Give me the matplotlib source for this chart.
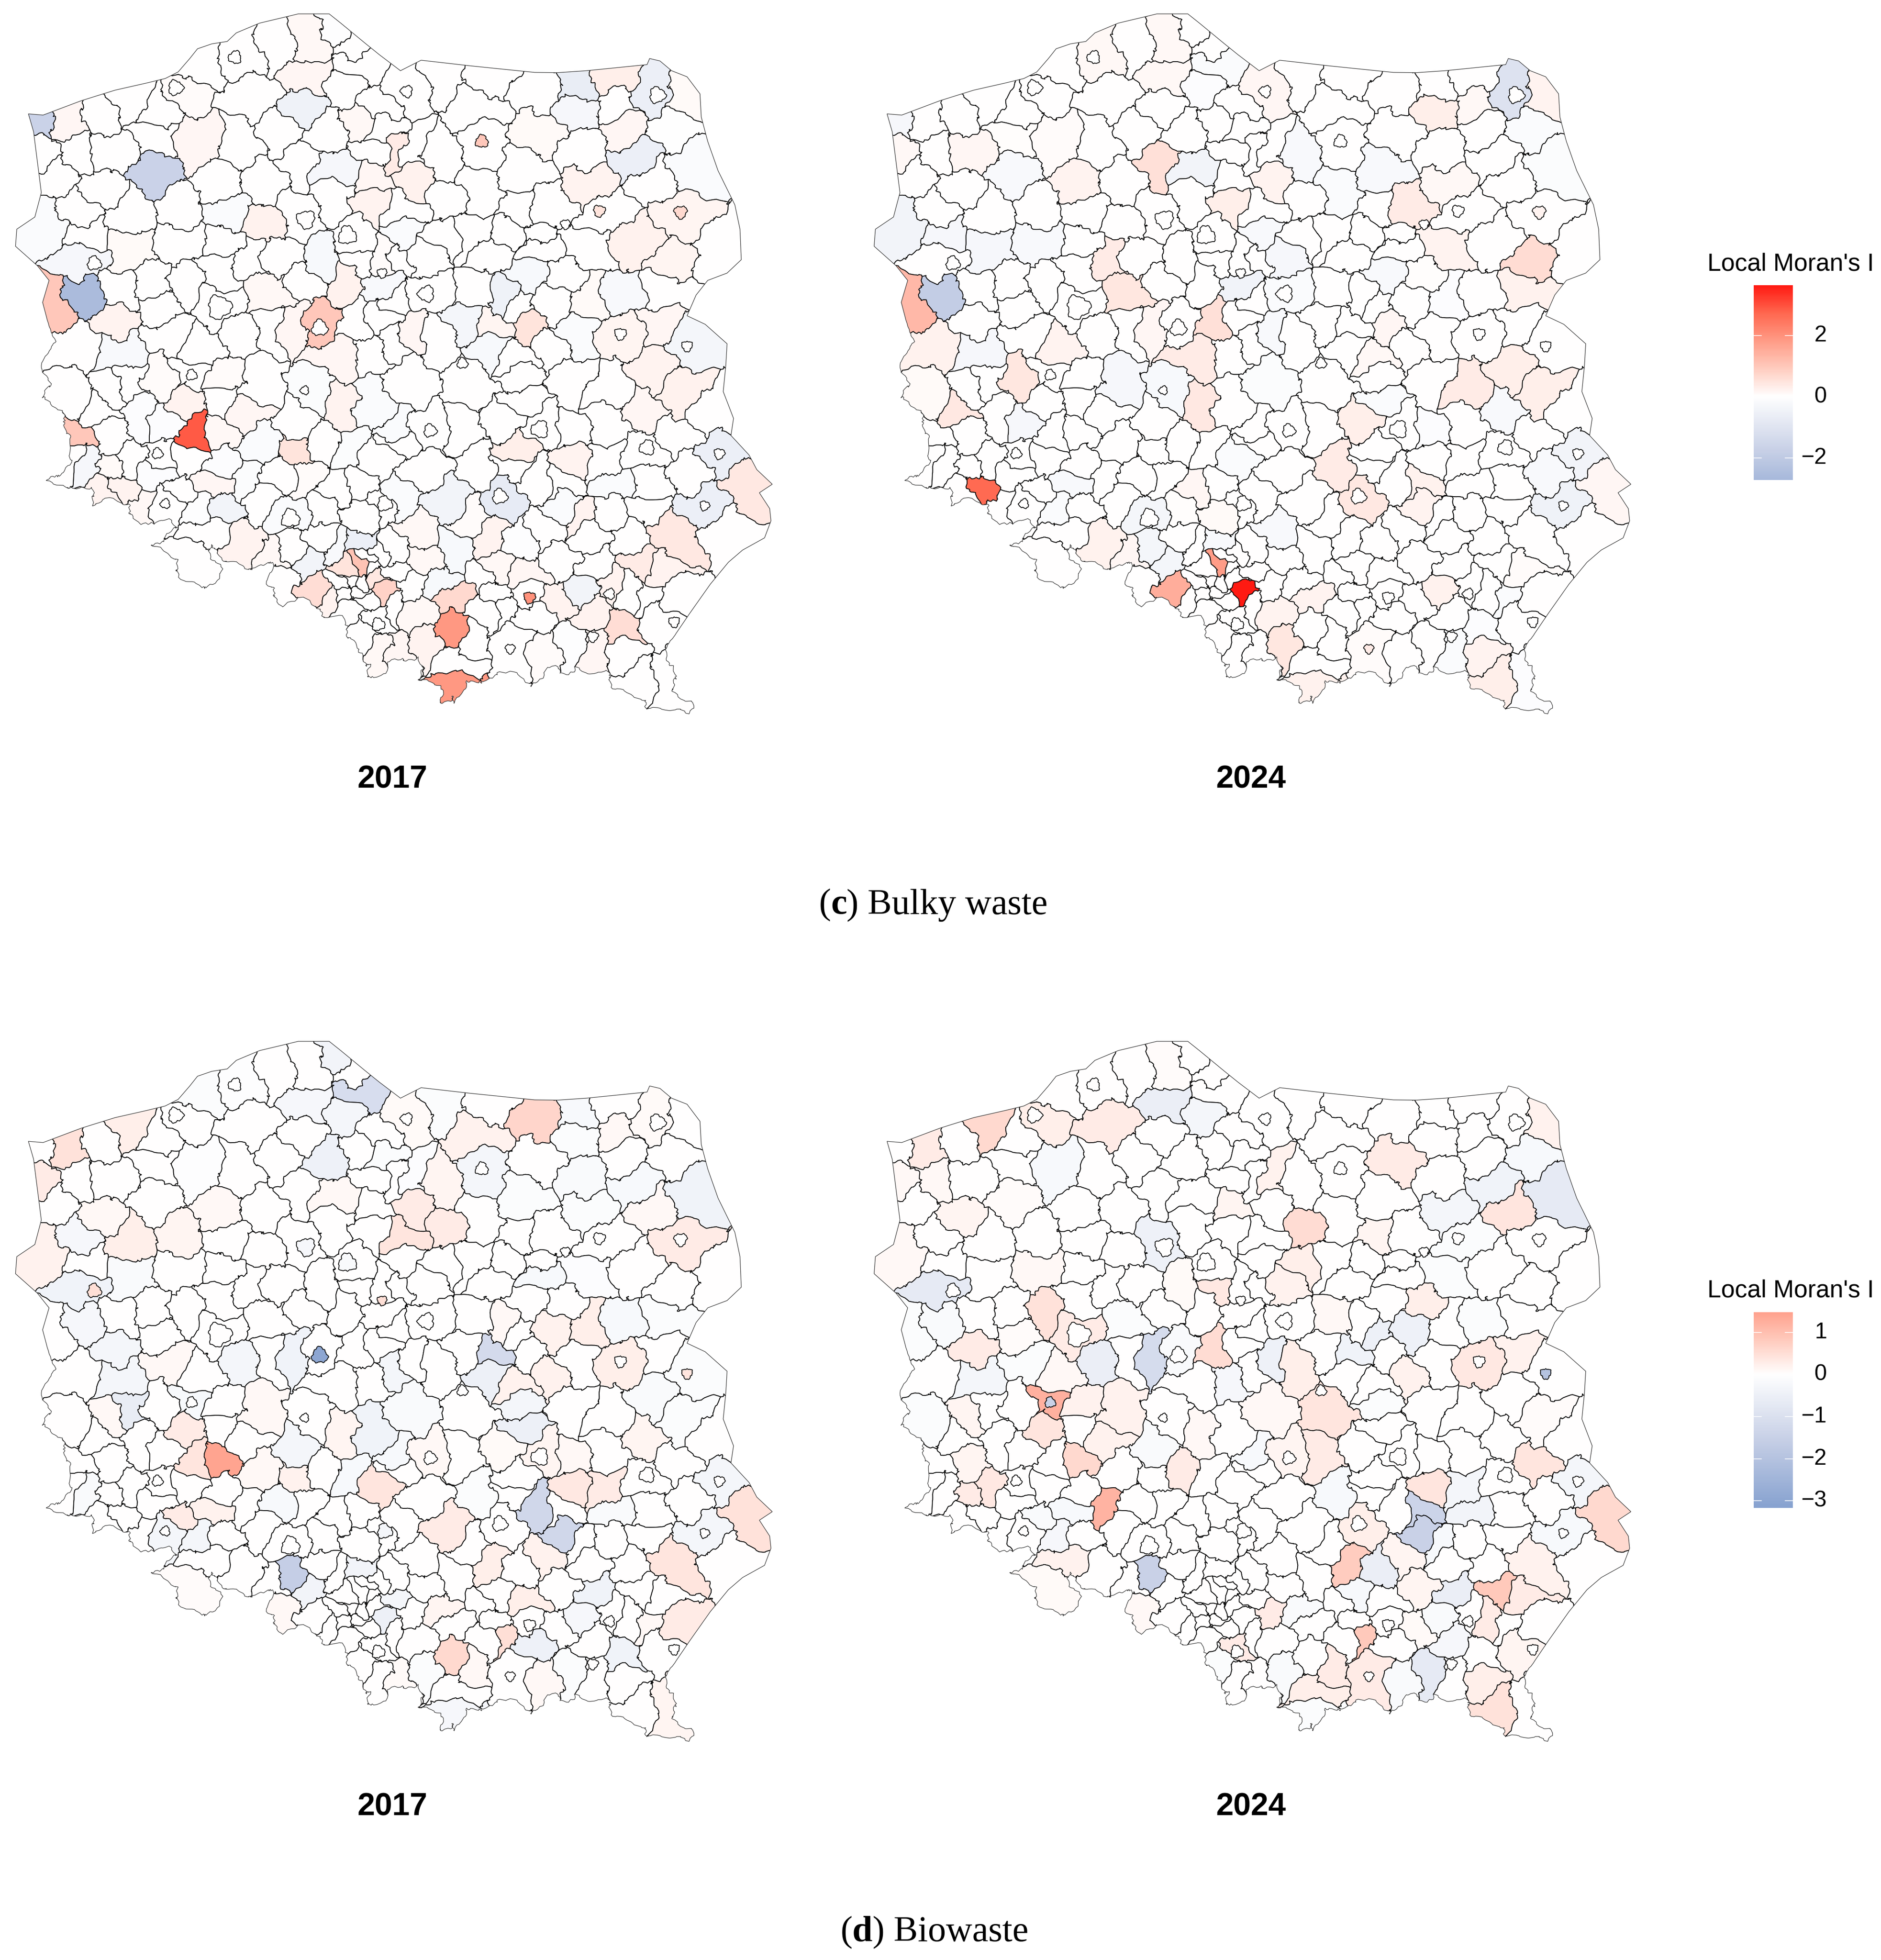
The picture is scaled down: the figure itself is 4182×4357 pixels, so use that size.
import matplotlib
matplotlib.use('Agg')
import matplotlib.pyplot as plt
import numpy as np
from matplotlib.collections import PolyCollection
from matplotlib.colors import LinearSegmentedColormap, Normalize
from matplotlib.patches import Polygon

W, H = 4182, 4357

# map units: x = image px * 1.742, y = image px * 1.845
SX, SY = 1.742, 1.845
CROP_DX, CROP_DY = 1481, 1476
PANEL_SCALE = 1.944

OUTLINE = [
    (110,467),(167,472),(315,413),(445,370),(570,340),(640,322),(690,295),(735,240),(765,200),(820,180),
    (880,170),(915,135),(1005,95),(1155,57),(1275,57),(1320,95),(1415,178),(1470,225),(1551,290),(1631,247),
    (1821,270),(2071,297),(2161,298),(2271,290),(2506,265),(2516,240),(2556,250),(2601,290),(2661,315),(2711,385),
    (2716,480),(2741,580),(2781,700),(2846,840),(2866,940),(2871,1065),(2816,1120),(2741,1150),(2696,1210),(2661,1295),
    (2731,1330),(2816,1410),(2811,1500),(2801,1606),(2841,1716),(2831,1786),(2901,1866),(2931,1926),(2991,1986),(2941,2021),
    (2981,2086),(2986,2136),(2961,2206),(2876,2256),(2821,2306),(2751,2396),(2671,2516),(2581,2656),(2611,2766),(2611,2846),
    (2661,2891),(2661,2936),(2611,2921),(2551,2896),(2491,2871),(2451,2861),(2396,2836),(2361,2776),(2311,2771),(2251,2736),
    (2196,2746),(2131,2756),(2081,2766),(2051,2811),(1991,2766),(1946,2771),(1861,2791),(1816,2796),(1786,2876),(1751,2851),
    (1696,2871),(1701,2796),(1631,2766),(1611,2686),(1521,2736),(1481,2766),(1450,2771),(1440,2716),(1400,2711),(1395,2631),
    (1340,2586),(1325,2526),(1250,2506),(1160,2461),(1110,2481),(1030,2386),(1070,2316),(985,2331),(950,2321),(810,2246),
    (855,2351),(760,2411),(715,2376),(660,2286),(610,2246),(680,2166),(640,2126),(585,2126),(555,2151),(510,2106),
    (440,2061),(365,2051),(340,1991),(255,2001),(205,1996),(245,1926),(270,1816),(260,1756),(190,1656),(180,1566),
    (160,1516),(220,1400),(200,1380),(165,1240),(190,1150),(145,1090),(60,1010),(65,940),(135,890),(160,790),(130,540),
]

# county centres, read per crop of the reference
SEEDS_NW = [
    (145,505),(260,490),(390,490),(510,420),(700,380),(760,270),(950,230),(1080,190),(1200,170),(1300,120),
    (1370,190),(1380,270),(1200,320),(1340,370),(1175,440),(980,390),(620,450),(600,560),(770,590),(940,590),
    (1090,560),(1150,670),(1300,700),(1280,530),(1380,500),(1470,450),(1480,520),(1450,620),(1540,620),(1450,730),
    (1430,830),(280,620),(170,640),(205,710),(440,620),(610,720),(380,780),(850,760),(1030,750),(1160,880),
    (1300,800),(1040,920),(700,850),(880,880),(490,880),(290,870),(180,920),(700,1000),(880,990),(510,1020),
    (320,960),(320,1060),(470,1200),(600,1150),(720,1170),(840,1110),(960,1050),(1090,1040),(1240,1070),(1380,980),
    (1190,1130),(1050,1210),(850,1260),(620,1280),(320,1220),(210,1270),(440,1320),(300,1420),(460,1440),(650,1370),
    (780,1420),(950,1360),(1040,1340),(1130,1330),(1245,1340),(1380,1320),(1480,1200),(1340,1150),(1380,1070),(1500,1050),
    (1500,1400),(1480,1300),(1300,1460),(1450,1430),
]
SEEDS_NE = [
    (100,360),(250,320),(400,310),(350,420),(620,370),(740,350),(900,320),(1040,370),(1170,400),(760,460),
    (920,420),(940,540),(1120,530),(1190,680),(980,660),(1040,730),(780,620),(620,550),(540,680),(390,600),
    (220,650),(380,790),(100,620),(125,750),(90,860),(260,830),(520,880),(650,850),(800,760),(860,860),
    (1150,900),(985,1000),(800,1020),(1120,1070),(1300,1050),(590,980),(500,940),(360,960),(220,970),(90,960),
    (50,1050),(170,1060),(430,1040),(600,1010),(560,1130),(370,1190),(180,1200),(20,1220),(470,1230),(530,1260),
    (650,1250),(700,1130),(800,1230),(920,1210),(1100,1200),(1190,1380),(1090,1330),(920,1370),(740,1380),(570,1340),
    (310,1340),(440,1340),(100,1360),(230,1390),(420,1430),(520,1460),(670,1430),
]
SEEDS_SW = [
    (280,140),(420,130),(500,90),(620,80),(730,70),(880,70),(990,100),(1220,130),(1330,190),(1430,190),
    (730,160),(850,170),(960,230),(1150,260),(1010,340),(1140,370),(1340,380),(1260,340),(1460,410),(1540,310),
    (750,300),(860,300),(640,270),(540,240),(430,310),(390,200),(300,320),(290,400),(345,420),(420,450),
    (520,420),(610,390),(600,470),(740,420),(850,420),(830,500),(950,510),(1080,460),(1200,490),(1290,530),
    (1400,520),(690,530),(880,600),(770,610),(640,590),(550,600),(1000,580),(1130,640),(1260,620),(1400,650),
    (1490,600),(470,520),(400,540),(810,700),(950,750),(1050,800),(1140,760),(1230,720),(1300,790),(1400,760),
    (1200,850),(1350,840),(1390,840),(1530,800),(1480,900),(1500,950),(1210,930),(1280,990),(1100,920),(730,830),
    (1390,940),(1320,940),(1450,1050),(1480,1200),(1400,1130),(1530,1000),(1420,820),(1450,810),(1400,910),(1350,920),
    (1440,870),(1530,860),(1340,970),(1400,980),(1350,1020),
]
SEEDS_SE = [
    (100,90),(340,100),(540,80),(740,80),(870,120),(1050,60),(1150,150),(1020,200),(1270,220),(1140,310),
    (1300,390),(1020,380),(870,260),(740,310),(610,270),(470,260),(540,170),(320,280),(180,290),(60,320),
    (510,360),(730,400),(860,420),(370,430),(160,460),(500,440),(600,490),(690,510),(910,510),(1200,470),
    (1030,500),(1420,530),(1240,600),(1000,610),(890,620),(770,650),(700,590),(460,550),(260,590),(60,580),
    (340,640),(130,720),(420,740),(530,760),(650,700),(800,720),(950,730),(1120,740),(1340,700),(1000,850),
    (1080,860),(820,840),(690,830),(570,870),(430,850),(300,800),(170,830),(230,900),(400,890),(100,930),
    (280,970),(440,980),(570,970),(680,980),(780,960),(880,930),(970,940),(1030,970),(1120,960),(1080,1060),
    (810,1020),(930,1110),(130,1040),(275,1100),(400,1030),(470,1020),(580,1040),(170,1150),(340,1140),(500,1180),
    (640,1180),(730,1170),(830,1180),(930,1200),(1010,1300),(1090,1300),(280,1340),(280,1240),(50,1200),
]

# enclosed cities, already in map units
CITIES = [
    (910,235),(680,360),(365,1080),(850,1260),(1238,1345),(1185,900),(1345,965),(1480,1120),(1575,375),(1866,580),
    (2321,865),(2190,920),(2636,870),(2546,390),(1651,1205),(2403,1370),(2661,1420),(1791,1490),(1666,1766),(2091,1761),
    (2506,1836),(2786,1861),(1936,2036),(2729,2074),(2051,2451),(2296,2611),(2361,2436),(2611,2551),(1976,2661),(742,1538),
    (610,1860),(640,2066),(1125,2126),(1490,2066),(1465,2561),(1180,1601),
]
CITY_RADIUS = [
    24,28,26,44,30,34,34,18,22,24,
    22,18,24,30,30,22,20,20,24,32,
    28,20,28,18,22,20,20,20,18,20,
    20,18,34,28,24,16,
]

# Local Moran's I per county: bulky waste 2017, read per crop
C2017_NW = [
    (145,505,-1.7),(260,490,.15),(700,380,.06),(1200,170,.12),(1300,120,-.08),(1200,320,.15),(1175,440,-.5),(770,590,.15),
    (610,720,-1.7),(1300,700,-.3),(1380,500,.12),(1450,730,.15),(1430,830,.22),(880,880,-.15),(510,1020,.09),(1040,920,.25),
    (320,1060,-.3),(320,1220,-2.6),(210,1270,1.0),(440,1320,.22),(460,1440,-.2),(180,920,-.15),(1050,1210,.12),(1245,1340,1.0),
    (1130,1330,.15),(1240,1070,-.25),(1480,1200,-.2),(1340,1150,.25),(1300,1460,.15),(1500,1050,.08),(1540,620,.35),
]
C2017_NE = [
    (740,350,-.7),(900,320,.3),(1040,370,-.6),(1170,400,.09),(760,460,-.3),(940,540,.15),(1120,530,-.04),(1190,680,-.15),
    (980,660,-.6),(620,550,.09),(125,750,.25),(90,960,-.15),(800,760,.22),(1150,900,.18),(985,1000,.25),(1120,1070,.18),
    (560,1130,-.25),(470,1230,-.5),(800,1230,.09),(920,1210,-.2),(1190,1380,-.35),(1090,1330,.15),(920,1370,.18),(740,1380,-.15),
    (570,1340,.5),(310,1340,-.35),(440,1340,.18),(100,1360,.15),(420,1430,-.25),
]
C2017_SW = [
    (620,80,.06),(880,70,.08),(1220,130,-.12),(1330,190,.22),(1430,190,-.15),(730,160,.22),(960,230,.15),(1010,340,-.15),
    (1140,370,.5),(1340,380,-.12),(1540,310,-.15),(750,300,2.9),(860,300,.12),(640,270,-.1),(540,240,-.1),(300,320,1.0),
    (345,420,-.3),(420,450,.09),(600,470,-.1),(850,420,-.1),(830,500,.15),(950,510,-.12),(1200,490,.08),(880,600,-.4),
    (770,610,-.08),(550,600,.12),(1130,640,-.15),(1400,760,-.6),(1200,850,-.4),(1300,790,-.2),(1350,840,.5),(1390,840,1.1),
    (1480,900,.4),(1500,950,.8),(1210,930,.6),(1280,990,.22),(950,750,.22),(1050,800,.12),(400,540,.22),(470,520,.22),(1480,1200,.12),
]
C2017_SE = [
    (1050,60,.22),(1150,150,.25),(1020,200,.15),(1300,390,-.6),(510,360,.3),(730,400,.22),(910,510,-.15),(1240,600,-.6),
    (1420,530,.4),(460,550,-.75),(260,590,-.4),(60,580,-.15),(770,650,.22),(700,590,-.15),(340,640,.08),(130,720,.12),
    (420,740,.22),(530,760,-.08),(1120,740,.4),(1000,850,.35),(1080,860,.22),(570,870,.15),(430,850,.12),(300,800,-.25),
    (170,830,.12),(230,900,-.25),(280,970,.7),(680,980,.22),(780,960,-.4),(880,930,.22),(930,1110,.6),(810,1020,.22),
    (130,1040,.12),(275,1100,1.9),(640,1180,.06),(730,1170,-.08),(830,1180,.15),(170,1150,.22),(280,1340,1.9),(50,1200,.15),
]
C2017_CITIES = [(1866,580,1.0),(2636,870,.7),(2321,865,.5),(2051,2451,2.0)]

C2024 = [
    (768,1250,3.65),(243,1040,2.7),(630,1245,1.5),(120,645,1.3),(165,630,-1.9),(713,1190,1.8),(1295,195,-1.1),(600,350,.55),
    (1340,555,.65),(535,620,.45),(705,700,.55),(670,755,.35),(685,865,.4),(320,790,.45),(210,845,.4),(495,545,.35),
    (1100,430,.35),(1140,495,.2),(1000,905,.3),(950,980,.35),(1005,1060,.4),(1230,770,.35),(1300,790,.3),(1350,830,.3),
    (1320,610,.25),(1150,235,.3),(1190,390,.12),(825,390,.2),(740,430,.3),(450,380,.2),(235,320,.15),(140,730,.25),
    (135,820,.1),(850,1350,.45),(1160,1255,.25),(905,1260,.2),(1125,1040,.25),(1145,1060,.2),(1280,1420,.3),(1240,1400,.2),
    (495,1150,.25),(540,1170,.15),(670,1040,.15),(700,1100,.1),(670,1100,.05),(445,740,.2),(520,755,.2),(580,680,.15),
    (1240,210,.12),(1365,205,.2),(1500,1070,.15),(900,1450,.25),(820,1300,.2),(1015,1370,.08),(1290,1250,.15),(480,100,.12),
    (610,165,.12),(620,60,.12),(770,170,.15),(400,310,.08),(300,280,.05),(90,330,.12),(1395,1200,.08),(1055,695,.15),
    (1050,755,.12),(1090,600,.05),(660,375,-.4),(755,625,-.45),(580,1070,-.45),(550,1110,-.35),(585,1155,-.35),(620,1195,-.4),
    (720,1150,-.35),(90,480,-.4),(150,500,-.3),(260,510,-.3),(360,520,-.2),(310,375,-.2),(240,730,-.3),(1040,360,-.2),
    (885,310,-.2),(1425,960,-.4),(1400,1070,-.5),(1370,1000,-.2),(1300,870,-.2),(1340,270,-.15),(1390,360,-.12),(1295,1250,-.15),
    (750,975,-.15),(430,1010,-.2),(570,770,-.3),(630,830,-.25),(335,895,-.3),(850,615,-.15),(850,545,-.3),(815,490,-.2),
    (810,695,-.2),(820,785,-.12),(840,1140,-.2),(705,140,-.15),(680,185,-.1),(1190,620,-.1),(1050,580,-.2),(1240,1330,-.1),
    (1045,850,-.15),(1155,920,-.1),(1185,1370,-.15),(1310,1440,-.1),(750,1130,-.2),(965,410,-.15),(605,1210,-.35),(395,1075,-.15),
    (75,260,-.3),
]
D2017 = [
    (445,915,1.45),(585,1155,-1.6),(1075,1000,-1.3),(1130,1060,-1.3),(990,680,-1.2),(705,135,-1.1),(1075,200,.65),(135,245,.45),
    (380,915,.4),(375,835,.3),(900,1340,.6),(1500,1080,.45),(1340,1130,.4),(1400,1200,.3),(1005,1275,.5),(815,430,.4),
    (895,425,.3),(825,385,.3),(890,300,.15),(260,225,.25),(90,340,.3),(85,470,.2),(240,450,.25),(180,390,.1),
    (350,430,.15),(445,400,.12),(345,1040,.3),(420,1010,.2),(750,975,.4),(895,1060,.3),(1085,1140,.2),(975,1140,.25),
    (1060,1205,.25),(1145,965,.35),(1205,970,.3),(1235,700,.25),(1085,640,.2),(1175,630,.25),(995,620,.12),(1105,735,.2),
    (1050,750,.2),(1360,460,.3),(1280,390,.1),(1300,170,.08),(1235,215,.12),(950,210,.2),(770,165,.08),(665,370,.1),
    (570,780,.12),(690,860,.15),(590,940,.2),(350,705,.12),(210,840,.1),(520,945,.12),(1290,860,.15),(1120,880,.1),
    (1070,900,.15),(1000,900,.08),(860,920,.12),(885,1240,.15),(1300,1230,.12),(1330,1440,.15),(1090,1360,.1),(780,1390,.08),
    (385,1180,.05),(940,1360,.1),(575,1240,.1),(665,270,-.45),(610,165,-.25),(685,180,-.3),(660,60,-.35),(985,290,-.3),
    (1390,360,-.4),(1150,330,-.15),(1250,350,-.2),(1075,510,-.2),(1240,620,-.2),(1330,620,-.12),(1370,760,-.12),(1300,790,-.15),
    (1360,820,-.1),(1430,960,-.3),(1400,1070,-.3),(1230,1030,-.15),(1230,1340,-.4),(1065,1280,-.45),(1185,1190,-.4),(1160,1255,-.25),
    (1135,1345,-.1),(1040,795,-.3),(1045,845,-.5),(985,730,-.5),(775,735,-.3),(585,690,-.4),(455,735,-.3),(240,800,-.6),
    (225,760,-.3),(170,550,-.4),(155,640,-.25),(225,680,-.3),(150,450,-.25),(260,510,-.15),(390,790,-.2),(615,1195,-.35),
    (720,1150,-.35),(770,1240,-.5),(790,1220,-.3),(390,1075,-.3),(325,1070,-.3),(905,1450,-.25),(845,1350,-.12),(175,975,-.15),
    (555,1000,-.2),(680,960,-.2),(600,895,-.3),(740,830,-.4),(785,920,-.2),(960,975,-.12),(870,800,-.15),(400,300,-.05),
    (820,310,-.08),(865,160,-.12),(765,265,-.1),(1155,240,-.12),(1175,180,-.2),(400,140,-.12),(510,100,-.05),(1040,350,-.1),
    (1140,420,-.1),(1145,515,-.08),
]
D2024 = [
    (380,775,1.25),(490,1020,1.2),(1005,1275,.85),(975,1150,.8),(1282,1190,.85),(1500,1060,.6),(895,425,.55),(260,215,.6),
    (1295,375,.4),(590,1155,-1.5),(1130,1060,-1.5),(1165,1020,-1.4),(585,680,-1.15),(1395,365,-.7),(1045,1150,-.55),(1185,1190,-.55),
    (610,165,-.55),(180,555,-.7),(1140,1350,-.7),(850,835,-.6),(1035,640,-.5),(1100,650,-.45),(810,695,-.45),(605,430,-.45),
    (460,735,-.55),(985,690,-.4),(1240,345,-.4),(1230,1040,-.35),(1185,385,-.3),(395,1075,-.35),(700,165,-.3),(400,310,-.2),
    (1340,270,-.2),(740,780,-.25),(950,975,-.2),(1425,960,-.3),(1400,1070,-.2),(1205,965,-.3),(800,1240,-.15),(1070,1360,-.15),
    (845,1350,-.15),(1190,1100,-.25),(1145,1090,-.2),(705,1320,-.12),(1190,1300,-.25),(1240,620,-.12),(900,1450,-.1),(440,1020,-.2),
    (390,1070,-.25),(345,1030,-.15),(240,730,-.3),(170,620,-.15),(130,640,-.1),(135,810,-.1),(520,760,-.12),(350,700,-.12),
    (630,690,-.15),(540,610,-.1),(1140,520,-.1),(1220,480,-.12),(1000,800,-.1),(815,1230,-.1),(900,1220,-.15),(1000,1220,-.2),
    (1165,1250,-.15),(790,900,-.2),(590,895,-.15),(130,245,.3),(360,220,.25),(490,190,.3),(90,330,.12),(145,320,.1),
    (80,470,.12),(190,400,.15),(625,60,.05),(830,320,.2),(745,380,.15),(1090,285,.3),(1360,195,.2),(370,600,.45),
    (435,645,.3),(225,680,.3),(300,680,.05),(400,730,.1),(450,800,.2),(385,840,.4),(445,915,.6),(490,875,.2),
    (340,520,.1),(260,370,.05),(205,840,.15),(220,905,.15),(215,990,.3),(270,975,.35),(405,1120,.2),(385,1190,.08),
    (570,1230,.08),(705,690,.55),(800,770,.1),(875,725,.25),(925,775,.4),(850,545,.2),(880,490,.25),(710,550,.35),
    (630,565,.08),(570,780,.2),(690,860,.12),(640,930,.3),(1025,465,.15),(955,600,.12),(1115,590,.25),(1105,735,.2),
    (930,910,.3),(855,930,.15),(1240,700,.35),(1325,680,.2),(1370,780,.05),(1350,925,.4),(1260,1230,.3),(1395,1200,.3),
    (1035,1040,.25),(1145,965,.4),(1105,1130,.15),(1120,1190,.15),(950,1350,.3),(1015,1370,.3),(900,1400,.25),(1240,1410,.25),
    (1285,1430,.45),(1320,1300,.15),(820,1240,.3),(745,1310,.3),(575,1240,.1),(1100,1260,.08),(1330,1130,.2),
]
C2024_CITIES = [(1355,450,.2),(1017,1370,.35)]
D2017_CITIES = [(635,690,-3.0),(188,553,.5),(1368,730,.4),(760,585,.5),(765,1065,-.3),(620,470,-.25),(690,495,-.15)]
D2024_CITIES = [(1368,730,-2.0),(382,792,-1.5)]

LIMIT_C = 3.65
LIMIT_D = 3.17
RANGE_C = (-2.72, 3.65)
RANGE_D = (-3.17, 1.48)
TICKS_C = [2, 0, -2]
TICKS_D = [1, 0, -1, -2, -3]

cmap = LinearSegmentedColormap.from_list('moran', [
    (0.0, '#87a2d0'), (0.25, '#c6cfe6'), (0.5, '#ffffff'),
    (0.625, '#ffcdc0'), (0.75, '#ff9c87'), (0.875, '#ff6850'), (1.0, '#ff1a12'),
])


def offset(points, dx, dy):
    return [(p[0] + dx, p[1] + dy) + tuple(p[2:]) for p in points]


def from_panel(points):
    return [(p[0] * PANEL_SCALE, p[1] * PANEL_SCALE, p[2]) for p in points]


def clip_half(poly, a, b):
    # keep the side of the bisector of a-b that holds a
    mid = (a + b) / 2
    n = b - a
    out = []
    for i in range(len(poly)):
        p, q = poly[i], poly[(i + 1) % len(poly)]
        dp, dq = np.dot(p - mid, n), np.dot(q - mid, n)
        if dp <= 0:
            out.append(p)
        if dp * dq < 0:
            out.append(p + (q - p) * dp / (dp - dq))
    return out


def wobble(pts, scale=1.0):
    x, y = pts[:, 0], pts[:, 1]
    dx = 16 * np.sin(x / 41 + y / 29) + 8 * np.sin(x / 13 - y / 19) + 4 * np.sin(x / 4.3 + y / 5.1)
    dy = 16 * np.sin(x / 31 - y / 43) + 8 * np.sin(x / 17 + y / 11) + 4 * np.sin(x / 5.3 - y / 3.9)
    return np.column_stack([x + dx * scale, y + dy * scale])


def densify(poly, step=6):
    out = []
    for i in range(len(poly)):
        p, q = np.array(poly[i], float), np.array(poly[(i + 1) % len(poly)], float)
        n = max(int(np.hypot(*(q - p)) / step), 1)
        for k in range(n):
            out.append(p + (q - p) * k / n)
    return np.array(out)


seeds = np.array(offset(SEEDS_NW, 0, 0) + offset(SEEDS_NE, CROP_DX, 0)
                 + offset(SEEDS_SW, 0, CROP_DY) + offset(SEEDS_SE, CROP_DX, CROP_DY), float)

cells = []
box = [np.array(c, float) for c in [(-100, -100), (3200, -100), (3200, 3100), (-100, 3100)]]
for i, s in enumerate(seeds):
    poly = box
    near = np.argsort(np.hypot(*(seeds - s).T))[1:45]
    for j in near:
        poly = clip_half(poly, s, seeds[j])
    cells.append(wobble(densify(poly)))

outline = densify(OUTLINE, 6)
south = np.clip((outline[:, 1] - 1300) / 300, 0, 1) * (outline[:, 0] < 2500) + np.clip((outline[:, 1] - 2600) / 100, 0, 1) * (outline[:, 0] >= 2500)
outline = wobble(outline, 1.0) * south[:, None] + outline * (1 - south[:, None])

city_polys = []
for (cx, cy), r in zip(CITIES, CITY_RADIUS):
    t = np.linspace(0, 2 * np.pi, 40, endpoint=False)
    rad = r * (1 + 0.14 * np.sin(3 * t + cx) + 0.07 * np.sin(7 * t + cy) + 0.05 * np.sin(13 * t + cx))
    city_polys.append(np.column_stack([cx + rad * np.cos(t), cy + rad * np.sin(t) * SY / SX]))
cities = np.array(CITIES, float)


def draw_panel(fig, ox, oy, values, city_values, limit):
    ax = fig.add_axes([ox / W, 1 - (oy + 1650) / H, 1750 / W, 1650 / H])
    ax.set_xlim(0, 1750 * SX)
    ax.set_ylim(1650 * SY, 0)
    ax.axis('off')
    ax.patch.set_alpha(0)
    norm = Normalize(-limit, limit)

    fill = np.zeros(len(seeds))
    for x, y, v in values:
        fill[np.argmin(np.hypot(seeds[:, 0] - x, seeds[:, 1] - y))] = v

    border = Polygon(outline, closed=True, facecolor='none', edgecolor='#333333', linewidth=0.9, zorder=3)
    ax.add_patch(border)
    coll = PolyCollection(cells, array=fill, cmap=cmap, norm=norm, edgecolors='#0d0d0d', linewidths=1.35, zorder=1)
    ax.add_collection(coll)
    coll.set_clip_path(border)

    city_fill = np.zeros(len(cities))
    for x, y, v in city_values:
        city_fill[np.argmin(np.hypot(cities[:, 0] - x, cities[:, 1] - y))] = v
    towns = PolyCollection(city_polys, array=city_fill, cmap=cmap, norm=norm, edgecolors='#0d0d0d', linewidths=1.35, zorder=2)
    ax.add_collection(towns)


def draw_legend(fig, top, bottom, zero_range, ticks, limit, title_y):
    lo, hi = zero_range
    ax = fig.add_axes([3899 / W, 1 - bottom / H, 87 / W, (bottom - top) / H])
    grad = np.linspace(hi, lo, 256)[:, None]
    ax.imshow(grad, extent=[0, 1, lo, hi], aspect='auto', cmap=cmap, norm=Normalize(-limit, limit))
    ax.set_xlim(0, 1)
    ax.set_ylim(lo, hi)
    ax.axis('off')
    for t in ticks:
        ax.plot([0, 0.2], [t, t], color='white', lw=1.2)
        ax.plot([0.8, 1], [t, t], color='white', lw=1.2)
        label = str(t).replace('-', '\u2212')
        ax.text(1.87, t, label, ha='right', va='center', fontsize=36, family='Liberation Sans', clip_on=False)
    fig.text(3796 / W, 1 - title_y / H, "Local Moran's I", fontsize=39.5, family='Liberation Sans', ha='left', va='baseline')


def caption(fig, x, y, parts):
    r = fig.canvas.get_renderer()
    for s, weight in parts:
        t = fig.text(x / W, 1 - y / H, s, fontsize=58, family='Liberation Serif', fontweight=weight, va='center', ha='left')
        x += t.get_window_extent(r).width


def main():
    fig = plt.figure(figsize=(W / 100, H / 100), dpi=100)

    c2017 = (offset(C2017_NW, 0, 0) + offset(C2017_NE, CROP_DX, 0)
             + offset(C2017_SW, 0, CROP_DY) + offset(C2017_SE, CROP_DX, CROP_DY))
    draw_panel(fig, 0, 0, c2017, C2017_CITIES, LIMIT_C)
    draw_panel(fig, 1909, 0, from_panel(C2024), from_panel(C2024_CITIES), LIMIT_C)
    draw_panel(fig, 0, 2284, from_panel(D2017), from_panel(D2017_CITIES), LIMIT_D)
    draw_panel(fig, 1909, 2284, from_panel(D2024), from_panel(D2024_CITIES), LIMIT_D)

    for x, y, s in [(873, 1734, '2017'), (2782, 1734, '2024'), (873, 4018, '2017'), (2782, 4018, '2024')]:
        fig.text(x / W, 1 - y / H, s, fontsize=50.5, fontweight='bold', family='Liberation Sans', ha='center', va='center')

    draw_legend(fig, 634, 1067, RANGE_C, TICKS_C, LIMIT_C, 601)
    draw_legend(fig, 2917, 3352, RANGE_D, TICKS_D, LIMIT_D, 2884)

    caption(fig, 1820, 2012, [('(', 'normal'), ('c', 'bold'), (') Bulky waste', 'normal')])
    caption(fig, 1868, 4296, [('(', 'normal'), ('d', 'bold'), (') Biowaste', 'normal')])

    fig.savefig('out.png', dpi=100, facecolor='white')


if __name__ == '__main__':
    main()
